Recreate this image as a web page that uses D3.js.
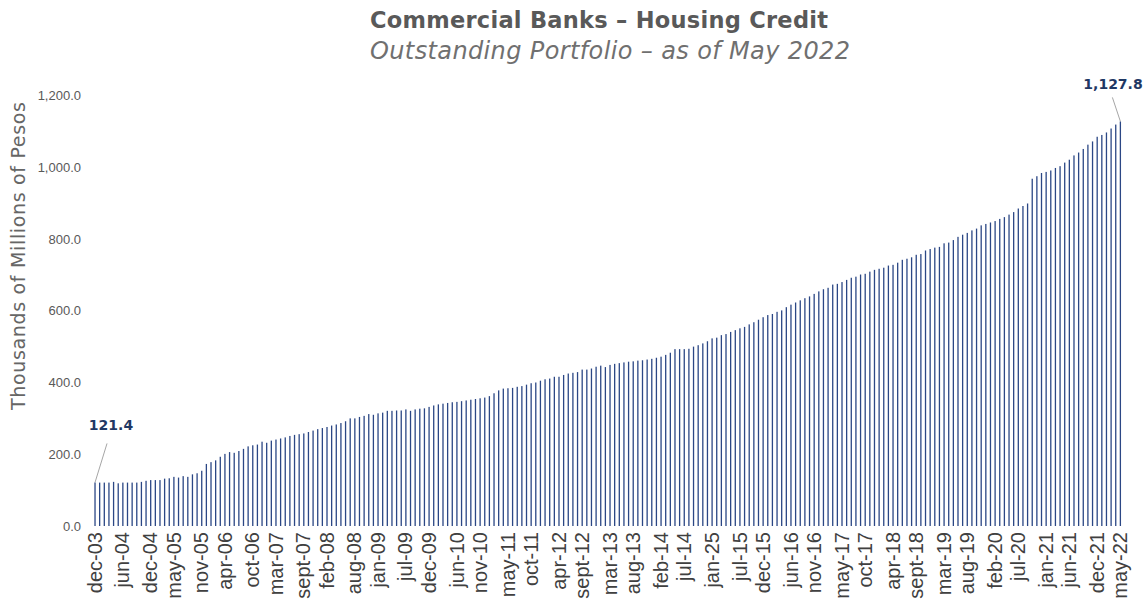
<!DOCTYPE html>
<html>
<head>
<meta charset="utf-8">
<script src="https://cdn.jsdelivr.net/npm/d3@7"></script>
<style>
  body { margin: 0; background: #fff; }
  svg { display: block; }
</style>
</head>
<body>
<svg id="chart" width="1148" height="612"></svg>
<script>
// monthly outstanding portfolio, dec-03 .. may-22 (thousands of millions of pesos)
const housingCredit = [
  121.4, 121, 121, 121, 123, 119, 121, 121, 121, 121,
  123, 126, 128, 128, 128, 132, 133, 137, 135, 139,
  137, 144, 147, 154, 173, 178, 183, 193, 201, 206,
  204, 209, 215, 222, 225, 227, 235, 232, 238, 241,
  244, 247, 251, 254, 256, 258, 262, 266, 270, 273,
  276, 280, 283, 287, 292, 300, 300, 304, 307, 312,
  310, 314, 316, 321, 321, 322, 322, 325, 321, 325,
  327, 328, 332, 336, 339, 341, 343, 345, 346, 348,
  350, 352, 354, 356, 358, 362, 370, 378, 383, 384,
  385, 388, 390, 394, 398, 400, 405, 409, 411, 416,
  416, 421, 425, 427, 429, 436, 436, 439, 444, 447,
  443, 449, 452, 454, 456, 458, 459, 461, 462, 464,
  466, 469, 472, 477, 483, 493, 493, 493, 494, 500,
  504, 509, 515, 523, 525, 532, 535, 541, 546, 551,
  555, 562, 568, 575, 582, 588, 591, 597, 601, 610,
  617, 623, 629, 635, 640, 647, 654, 660, 664, 673,
  675, 680, 686, 692, 695, 701, 703, 709, 714, 717,
  720, 726, 728, 734, 742, 745, 749, 756, 758, 768,
  772, 776, 778, 788, 790, 797, 806, 812, 817, 824,
  829, 838, 842, 846, 850, 856, 861, 868, 875, 885,
  892, 899, 968, 975, 984, 987, 991, 998, 1003, 1013,
  1021, 1033, 1041, 1051, 1063, 1072, 1085, 1090, 1097, 1108,
  1119, 1127.8
];

const monthNames = ['jan', 'feb', 'mar', 'apr', 'may', 'jun', 'jul', 'aug', 'sept', 'oct', 'nov', 'dec'];

// the labels excel printed on the category axis (note the "jan-25" typo in the original)
const shownTicks = [
  'dec-03', 'jun-04', 'dec-04', 'may-05', 'nov-05', 'apr-06', 'oct-06', 'mar-07', 'sept-07', 'feb-08',
  'aug-08', 'jan-09', 'jul-09', 'dec-09', 'jun-10', 'nov-10', 'may-11', 'oct-11', 'apr-12', 'sept-12',
  'mar-13', 'aug-13', 'feb-14', 'jul-14', 'jan-15', 'jul-15', 'dec-15', 'jun-16', 'nov-16', 'may-17',
  'oct-17', 'apr-18', 'sept-18', 'mar-19', 'aug-19', 'feb-20', 'jul-20', 'jan-21', 'jun-21', 'dec-21',
  'may-22'
];
const tickText = { 'jan-15': 'jan-25' };

const yTicks = [0, 200, 400, 600, 800, 1000, 1200];

// category keys: one per month starting dec 2003
const categories = housingCredit.map((d, i) => {
  const m = (11 + i) % 12;
  const y = 2003 + Math.floor((11 + i) / 12);
  return monthNames[m] + '-' + String(y % 100).padStart(2, '0');
});

const data = categories.map((c, i) => ({ cat: c, value: housingCredit[i] }));

const svg = d3.select('#chart');
const barColor = '#2b4785';
const labelColor = '#1f3864';
const grayText = '#595959';

const x = d3.scaleBand()
  .domain(categories)
  .range([92.7, 1122.7])
  .paddingInner(0.72)
  .paddingOuter(0.36);

const y = d3.scaleLinear()
  .domain([0, 1200])
  .range([526, 95.5]);

// titles
svg.append('text')
  .attr('x', 599).attr('y', 28)
  .attr('text-anchor', 'middle')
  .attr('textLength', 458)
  .attr('lengthAdjust', 'spacing')
  .style('font-family', 'DejaVu Sans')
  .style('font-weight', 'bold')
  .style('font-size', '22.5px')
  .style('fill', '#595959')
  .text('Commercial Banks – Housing Credit');

svg.append('text')
  .attr('x', 610).attr('y', 59)
  .attr('text-anchor', 'middle')
  .attr('textLength', 480)
  .attr('lengthAdjust', 'spacing')
  .style('font-family', 'DejaVu Sans')
  .style('font-style', 'italic')
  .style('font-size', '24px')
  .style('fill', '#707070')
  .text('Outstanding Portfolio – as of May 2022');

// y axis (labels only, no line)
const yAxis = svg.append('g')
  .attr('transform', 'translate(81,0)')
  .call(d3.axisLeft(y).tickValues(yTicks).tickSize(0).tickPadding(0)
    .tickFormat(d3.format(',.1f')));
yAxis.select('.domain').remove();
yAxis.selectAll('text')
  .style('font-family', 'Liberation Sans')
  .style('font-size', '13px')
  .style('fill', grayText);

svg.append('text')
  .attr('transform', 'translate(25,256) rotate(-90)')
  .attr('text-anchor', 'middle')
  .attr('textLength', 308)
  .attr('lengthAdjust', 'spacing')
  .style('font-family', 'DejaVu Sans')
  .style('font-size', '19px')
  .style('fill', '#666666')
  .text('Thousands of Millions of Pesos');

// bars
svg.append('g')
  .selectAll('rect')
  .data(data)
  .join('rect')
  .attr('x', d => x(d.cat))
  .attr('y', d => y(d.value))
  .attr('width', x.bandwidth())
  .attr('height', d => y(0) - y(d.value))
  .attr('fill', barColor);

// x axis labels
const xAxis = svg.append('g')
  .attr('transform', `translate(0,${y(0) + 6})`)
  .call(d3.axisBottom(x)
    .tickValues(shownTicks)
    .tickSize(0)
    .tickFormat(d => tickText[d] || d));
xAxis.select('.domain').remove();
xAxis.selectAll('text')
  .attr('transform', 'rotate(-90)')
  .attr('text-anchor', 'end')
  .attr('x', 0)
  .attr('y', 0)
  .attr('dy', '0.33em')
  .style('font-family', 'Liberation Sans')
  .style('font-size', '20px')
  .style('fill', '#404040');

// data labels for first and last month
const first = data[0];
const last = data[data.length - 1];
const cx = d => x(d.cat) + x.bandwidth() / 2;

svg.append('line')
  .attr('x1', cx(first)).attr('y1', y(first.value))
  .attr('x2', cx(first) + 12).attr('y2', y(first.value) - 39)
  .attr('stroke', '#a6a6a6').attr('stroke-width', 1);

svg.append('text')
  .attr('x', 111).attr('y', 430)
  .attr('text-anchor', 'middle')
  .style('font-family', 'DejaVu Sans')
  .style('font-weight', 'bold')
  .style('font-size', '14px')
  .style('fill', labelColor)
  .text(d3.format(',.1f')(first.value));

svg.append('line')
  .attr('x1', cx(last)).attr('y1', y(last.value))
  .attr('x2', cx(last) - 8).attr('y2', y(last.value) - 24)
  .attr('stroke', '#a6a6a6').attr('stroke-width', 1);

svg.append('text')
  .attr('x', 1113).attr('y', 89)
  .attr('text-anchor', 'middle')
  .style('font-family', 'DejaVu Sans')
  .style('font-weight', 'bold')
  .style('font-size', '14px')
  .style('fill', labelColor)
  .text(d3.format(',.1f')(last.value));
</script>
</body>
</html>
